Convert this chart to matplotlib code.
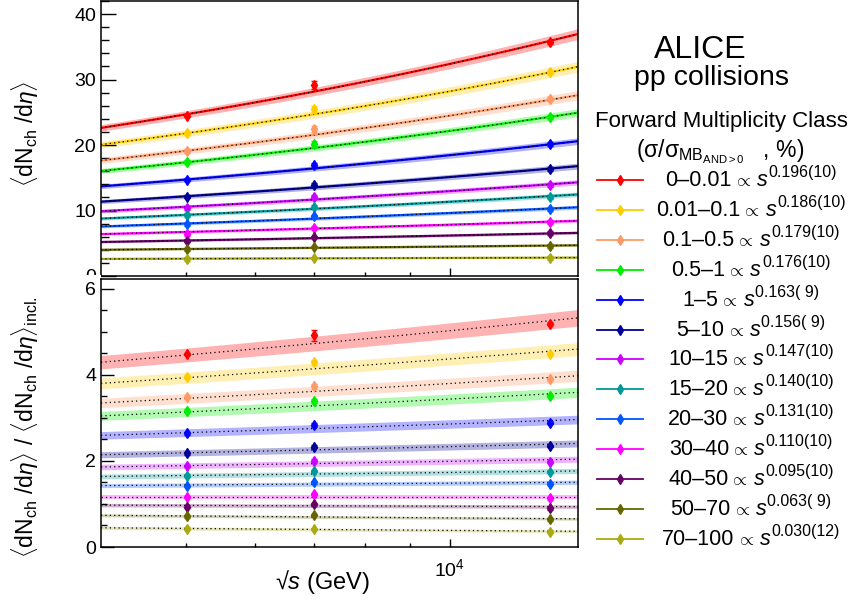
import numpy as np
import matplotlib
matplotlib.use("Agg")
import matplotlib.pyplot as plt
from matplotlib.patches import Rectangle
from matplotlib.lines import Line2D
from matplotlib.ticker import FixedLocator, NullFormatter, MultipleLocator

plt.rcParams['font.family'] = ['Liberation Sans', 'DejaVu Sans']
plt.rcParams['mathtext.fontset'] = 'custom'
plt.rcParams['mathtext.rm'] = 'Liberation Sans'
plt.rcParams['mathtext.it'] = 'Liberation Sans:italic'
plt.rcParams['mathtext.bf'] = 'Liberation Sans:bold'

# ---------------- data ----------------
energies = [5020, 7000, 13000]
classes = ["0–0.01", "0.01–0.1", "0.1–0.5", "0.5–1", "1–5", "5–10", "10–15",
           "15–20", "20–30", "30–40", "40–50", "50–70", "70–100"]
exponents = [0.196, 0.186, 0.179, 0.176, 0.163, 0.156, 0.147, 0.140, 0.131,
             0.110, 0.095, 0.063, 0.030]
exponent_errs = ["10", "10", "10", "10", " 9", " 9", "10", "10", "10", "10",
                 "10", " 9", "12"]
incl_exponent = 0.110
colors = ["#ff0000", "#ffcc00", "#ff9966", "#00ee00", "#0000ff", "#000099",
          "#cc00ff", "#009999", "#0055ff", "#ff00ff", "#660066", "#666600",
          "#aaaa11"]

dndeta_5020 = [24.5, 21.8, 19.1, 17.4, 14.7, 12.1, 10.4, 9.3, 7.9, 6.4, 5.4, 4.1, 2.6]
dndeta_7000 = [29.2, 25.5, 22.4, 20.2, 16.9, 13.9, 12.1, 10.6, 9.1, 7.4, 6.0, 4.5, 2.7]
dndeta_13000 = [35.8, 31.1, 27.0, 24.3, 20.1, 16.3, 13.9, 12.1, 10.2, 8.2, 6.5, 4.6, 2.8]
dndeta_err_7000 = [0.6, 0.5, 0.45, 0.4, 0.35, 0.3, 0.25, 0.25, 0.2, 0.2, 0.15, 0.12, 0.08]
fit_13000 = [35.9, 31.1, 26.9, 24.3, 20.1, 16.4, 14.0, 12.2, 10.3, 8.3, 6.5, 4.65, 2.8]
fit_band_13000 = [0.8, 0.8, 0.7, 0.6, 0.5, 0.45, 0.4, 0.35, 0.3, 0.25, 0.2, 0.15, 0.1]

ratio_5020 = [4.49, 3.96, 3.49, 3.17, 2.64, 2.18, 1.88, 1.66, 1.42, 1.16, 0.94, 0.71, 0.43]
ratio_7000 = [4.92, 4.29, 3.74, 3.39, 2.84, 2.33, 2.00, 1.77, 1.50, 1.23, 0.99, 0.74, 0.41]
ratio_13000 = [5.19, 4.49, 3.90, 3.51, 2.89, 2.35, 1.98, 1.74, 1.47, 1.13, 0.90, 0.64, 0.36]
ratio_err_7000 = [0.13, 0.06, 0.06, 0.05, 0.05, 0.04, 0.04, 0.03, 0.03, 0.03, 0.03, 0.02, 0.02]
ratio_fit_13000 = [5.26, 4.55, 3.94, 3.56, 2.94, 2.39, 2.03, 1.76, 1.50, 1.17, 0.94, 0.66, 0.37]
ratio_band_13000 = [0.19, 0.15, 0.13, 0.12, 0.10, 0.08, 0.07, 0.06, 0.05, 0.05, 0.04, 0.03, 0.03]

x_min, x_max = 4000, 14000

# ---------------- figure ----------------
W, H = 848, 600
fig = plt.figure(figsize=(W / 100, H / 100), dpi=100)

def fx(px):
    return px / W

def fy(py):
    return 1 - py / H

ax1 = fig.add_axes([fx(101), fy(276), fx(578) - fx(101), fy(1) - fy(276)], zorder=0)
ax2 = fig.add_axes([fx(101), fy(547), fx(578) - fx(101), fy(279) - fy(547)], zorder=2)

xs = np.geomspace(x_min, x_max, 200)

for i in range(len(classes)):
    c = colors[i]
    # top panel fit: dN/deta ∝ s^alpha with s = (sqrt s)^2
    fit = fit_13000[i] * (xs / 13000.0) ** (2 * exponents[i])
    rel = fit_band_13000[i] / fit_13000[i]
    ax1.fill_between(xs, fit * (1 - rel), fit * (1 + rel), color=c, alpha=0.3, lw=0, zorder=1)
    ax1.plot(xs, fit, color=c, lw=1.6, zorder=2)
    ax1.plot(xs, fit, color='black', lw=0.9, ls=(0, (1, 2.5)), zorder=3)
    ax1.errorbar(energies, [dndeta_5020[i], dndeta_7000[i], dndeta_13000[i]],
                 yerr=[0.25, dndeta_err_7000[i], 0.3], fmt='d', color=c, ms=5,
                 elinewidth=1, capsize=2, capthick=1, zorder=4)

    # bottom panel ratio
    rfit = ratio_fit_13000[i] * (xs / 13000.0) ** (2 * (exponents[i] - incl_exponent))
    rrel = ratio_band_13000[i] / ratio_fit_13000[i]
    ax2.fill_between(xs, rfit * (1 - rrel), rfit * (1 + rrel), color=c, alpha=0.3, lw=0, zorder=1)
    ax2.plot(xs, rfit, color='black', lw=0.9, ls=(0, (1, 2.5)), zorder=3)
    ax2.errorbar(energies, [ratio_5020[i], ratio_7000[i], ratio_13000[i]],
                 yerr=[0.03, ratio_err_7000[i], 0.03], fmt='d', color=c, ms=5,
                 elinewidth=1, capsize=2, capthick=1, zorder=4)

for ax in (ax1, ax2):
    ax.set_xscale('log')
    ax.set_xlim(x_min, x_max)
    ax.xaxis.set_major_locator(FixedLocator([10000]))
    ax.xaxis.set_minor_locator(FixedLocator([5000, 6000, 7000, 8000, 9000]))
    ax.xaxis.set_minor_formatter(NullFormatter())
    ax.tick_params(axis='both', which='both', direction='in', top=False, right=False,
                   labelsize=14, width=1.0)
    for sp in ax.spines.values():
        sp.set_linewidth(1.1)

ax1.set_ylim(0, 42)
ax1.yaxis.set_major_locator(MultipleLocator(10))
ax1.yaxis.set_minor_locator(MultipleLocator(2))
ax1.tick_params(axis='y', which='major', length=11)
ax1.tick_params(axis='y', which='minor', length=5.8)
ax1.tick_params(axis='x', which='major', length=5.5)
ax1.tick_params(axis='x', which='minor', length=3)
ax1.tick_params(axis='x', labelbottom=False)

ax2.set_ylim(0, 6.23)
ax2.yaxis.set_major_locator(MultipleLocator(2))
ax2.yaxis.set_minor_locator(MultipleLocator(0.5))
ax2.tick_params(axis='y', which='major', length=9.5)
ax2.tick_params(axis='y', which='minor', length=4.5)
ax2.tick_params(axis='x', which='major', length=5.5, pad=8)
ax2.tick_params(axis='x', which='minor', length=3)
ax2.set_xticks([10000])
ax2.set_xticklabels([r'$10^{4}$'])

# cover for the clipped "0" of the top panel (as in the reference)
fig.add_artist(Rectangle((fx(40), fy(600)), fx(61), fy(275) - fy(600),
                         transform=fig.transFigure, facecolor='white',
                         edgecolor='none', zorder=1))

# axis labels
fig.text(fx(322), fy(589), '√$s$ (GeV)', fontsize=17, ha='center', va='baseline')
fig.text(fx(25), fy(134), r'$\langle$dN$_{\rm ch}$ /d$\eta\rangle$', fontsize=16.5,
         rotation=90, ha='center', va='center')
fig.text(fx(25), fy(427), r'$\langle$dN$_{\rm ch}$ /d$\eta\rangle$ / $\langle$dN$_{\rm ch}$ /d$\eta\rangle_{\rm incl.}$',
         fontsize=16.5, rotation=90, ha='center', va='center')

# header texts
fig.text(fx(700), fy(58), 'ALICE', fontsize=23, ha='center', va='baseline')
fig.text(fx(712), fy(85), 'pp collisions', fontsize=20.5, ha='center', va='baseline')
fig.text(fx(721), fy(127), 'Forward Multiplicity Class', fontsize=16, ha='center', va='baseline')
fig.text(fx(720), fy(157), r'(σ/σ$_{\rm MB_{AND>0}}$   , %)', fontsize=16.5,
         ha='center', va='baseline')

# legend rows
row0, drow = 180, 29.9
renderer = fig.canvas.get_renderer()
for i in range(len(classes)):
    yrow = row0 + i * drow
    c = colors[i]
    fig.add_artist(Line2D([fx(597), fx(643)], [fy(yrow), fy(yrow)], color=c, lw=1.3,
                          transform=fig.transFigure))
    fig.add_artist(Line2D([fx(620)], [fy(yrow)], marker='d', color=c, ms=5,
                          transform=fig.transFigure))
    base = yrow + 6
    t1 = fig.text(0, fy(base), classes[i], fontsize=15.5, va='baseline')
    t1b = fig.text(0, fy(base), r"$\propto$", fontsize=13, va='baseline')
    t2 = fig.text(0, fy(base), "s", fontsize=15.5, style='italic', va='baseline')
    t3 = fig.text(0, fy(base - 9), f"{exponents[i]:.3f}({exponent_errs[i]})", fontsize=11.5,
                  va='baseline')
    w1 = t1.get_window_extent(renderer).width
    w1b = t1b.get_window_extent(renderer).width
    w2 = t2.get_window_extent(renderer).width
    w3 = t3.get_window_extent(renderer).width
    total = w1 + 2 + w1b + 5 + w2 + 1 + w3
    x0 = 751 - total / 2
    t1.set_x(fx(x0))
    t1b.set_x(fx(x0 + w1 + 2))
    t2.set_x(fx(x0 + w1 + 2 + w1b + 5))
    t3.set_x(fx(x0 + w1 + 2 + w1b + 5 + w2 + 1))

fig.savefig("out.png", dpi=100)
